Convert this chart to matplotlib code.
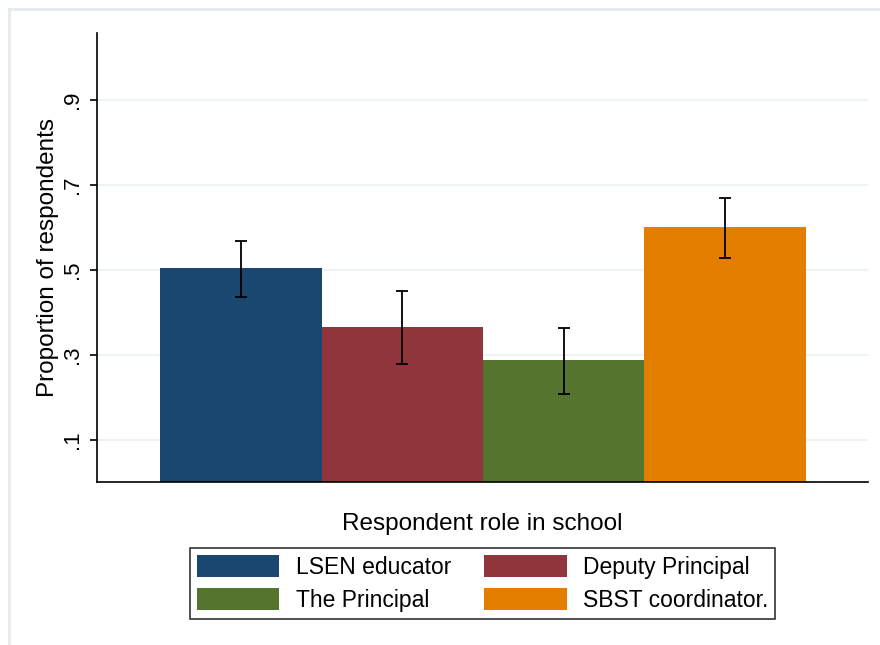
import matplotlib
matplotlib.use('Agg')
from matplotlib import pyplot as plt
from matplotlib.patches import Patch
from matplotlib.lines import Line2D

# data
roles = ['LSEN educator', 'Deputy Principal', 'The Principal', 'SBST coordinator.']
proportions = [0.504, 0.365, 0.287, 0.601]
ci_low = [0.436, 0.277, 0.208, 0.526]
ci_high = [0.568, 0.450, 0.363, 0.669]
y_ticks = [0.1, 0.3, 0.5, 0.7, 0.9]
y_ticklabels = ['.1', '.3', '.5', '.7', '.9']
colors = ['#1a476f', '#90353b', '#55752f', '#e37e00']

plt.rcParams['font.family'] = ['Liberation Sans', 'DejaVu Sans']

fig = plt.figure(figsize=(8.8, 6.45), dpi=100)
fig.patch.set_facecolor('white')
ax = fig.add_axes([97 / 880, 1 - 482 / 645, (868 - 97) / 880, (482 - 33) / 645])

# bars
xs = list(range(len(roles)))
ax.bar(xs, proportions, width=1.0, color=colors, edgecolor='none', zorder=2)

# error bars
lower = [p - lo for p, lo in zip(proportions, ci_low)]
upper = [hi - p for p, hi in zip(proportions, ci_high)]
ax.errorbar(xs, proportions, yerr=[lower, upper], fmt='none', ecolor='black',
            elinewidth=1.3, capsize=4, capthick=1.3, zorder=3)

# axes
ax.set_xlim(-0.891, 3.885)
ax.set_ylim(0, 1.0565)
ax.set_yticks(y_ticks)
ax.set_yticklabels(y_ticklabels, rotation=90, va='center', fontsize=16)
ax.set_xticks([])
ax.yaxis.grid(True, color='#eaf0f2', linewidth=1.2, zorder=0)
ax.set_axisbelow(True)
for side in ['top', 'right']:
    ax.spines[side].set_visible(False)
ax.spines['left'].set_linewidth(1.2)
ax.spines['bottom'].set_linewidth(1.2)
ax.tick_params(axis='y', length=5, width=1.2, pad=5)

ax.set_ylabel('Proportion of respondents', fontsize=17.5, labelpad=2)
ax.set_xlabel('Respondent role in school', fontsize=17.5, labelpad=22)

# legend, Stata order: row-wise
handles = [Patch(facecolor=c, edgecolor='none') for c in colors]
order = [0, 2, 1, 3]
leg = fig.legend([handles[i] for i in order], [roles[i] for i in order],
                 ncol=2, loc='center', bbox_to_anchor=(482.5 / 880, 1 - 583.5 / 645),
                 frameon=True, fancybox=False, edgecolor='black', fontsize=16.5,
                 handlelength=3.6, handleheight=1.1, handletextpad=0.7,
                 columnspacing=1.45, labelspacing=0.4, borderpad=0.3)
leg.get_frame().set_linewidth(1.2)

# outer graph region border
fig.add_artist(Line2D([9 / 880, 1.0], [1 - 9 / 645, 1 - 9 / 645], color='#e3eaee', lw=2,
                      transform=fig.transFigure))
fig.add_artist(Line2D([9 / 880, 9 / 880], [0, 1 - 9 / 645], color='#e3eaee', lw=2,
                      transform=fig.transFigure))

fig.savefig('out.png', dpi=100)
